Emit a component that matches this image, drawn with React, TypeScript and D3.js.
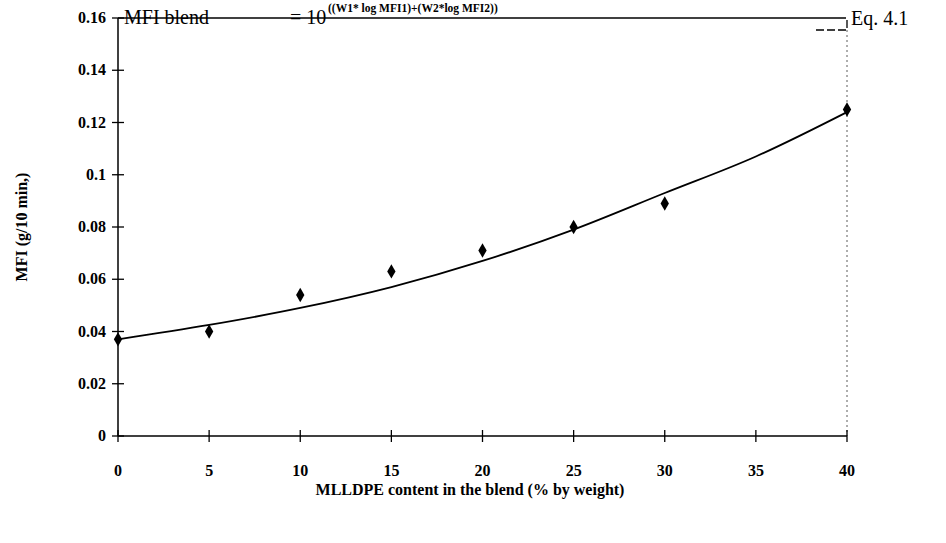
import React from 'react';
import * as d3 from 'd3';

const xTicks = [0, 5, 10, 15, 20, 25, 30, 35, 40];
const yTicks = [0, 0.02, 0.04, 0.06, 0.08, 0.1, 0.12, 0.14, 0.16];
const yTickLabels = ['0', '0.02', '0.04', '0.06', '0.08', '0.1', '0.12', '0.14', '0.16'];
const measuredX = [0, 5, 10, 15, 20, 25, 30, 40];
const measuredMfi = [0.037, 0.04, 0.054, 0.063, 0.071, 0.08, 0.089, 0.125];
const curveX = [0, 5, 10, 15, 20, 25, 30, 35, 40];
const curveMfi = [0.037, 0.0425, 0.049, 0.057, 0.067, 0.079, 0.093, 0.107, 0.124];

export default function App() {
  const x = d3.scaleLinear().domain([0, 40]).range([118, 847]);
  const y = d3.scaleLinear().domain([0, 0.16]).range([436, 18]);

  const line = d3.line<number>()
    .x((_, i) => x(curveX[i]))
    .y(d => y(d))
    .curve(d3.curveMonotoneX);

  const diamond = d3.symbol().type(d3.symbolDiamond).size(60)() as string;

  return (
    <svg width={946} height={543} style={{ position: 'absolute', left: 0, top: 0, background: '#fff', fontFamily: 'Liberation Serif, serif' }}>
      {/* frame */}
      <line x1={118} x2={118} y1={18} y2={436} stroke="#000" strokeWidth={1.5} />
      <line x1={118} x2={847} y1={436} y2={436} stroke="#000" strokeWidth={1.5} />
      <line x1={118} x2={838} y1={18} y2={18} stroke="#000" strokeWidth={1.3} />
      <line x1={847} x2={847} y1={30} y2={436} stroke="#333" strokeWidth={0.8} strokeDasharray="2,3" />
      <path d="M838,18 L847,18 L847,30 L815,30" fill="none" stroke="#000" strokeWidth={1.3} strokeDasharray="8,3" />

      {yTicks.map((t, i) => (
        <g key={t}>
          <line x1={112} x2={124} y1={y(t)} y2={y(t)} stroke="#000" strokeWidth={1.3} />
          <text x={106} y={y(t) + 5} textAnchor="end" fontSize={16} fontWeight="bold">{yTickLabels[i]}</text>
        </g>
      ))}
      {xTicks.map(t => (
        <g key={t}>
          <line x1={x(t)} x2={x(t)} y1={430} y2={442} stroke="#000" strokeWidth={1.3} />
          <text x={x(t)} y={476} textAnchor="middle" fontSize={16} fontWeight="bold">{t}</text>
        </g>
      ))}

      <path d={line(curveMfi) ?? ''} fill="none" stroke="#000" strokeWidth={1.8} />
      {measuredMfi.map((v, i) => (
        <path key={i} d={diamond} transform={`translate(${x(measuredX[i])},${y(v)})`} fill="#000" />
      ))}

      <text x={124} y={24} fontSize={20}>MFI blend</text>
      <text x={290} y={24} fontSize={20}>= 10</text>
      <text x={328} y={12} fontSize={11.5} fontWeight="bold">((W1* log MFI1)+(W2*log MFI2))</text>
      <text x={851} y={25} fontSize={20}>Eq. 4.1</text>

      <text x={470} y={495} textAnchor="middle" fontSize={16} fontWeight="bold">MLLDPE content in the blend (% by weight)</text>
      <text transform="translate(27,227) rotate(-90)" textAnchor="middle" fontSize={16} fontWeight="bold">MFI (g/10 min,)</text>
    </svg>
  );
}
